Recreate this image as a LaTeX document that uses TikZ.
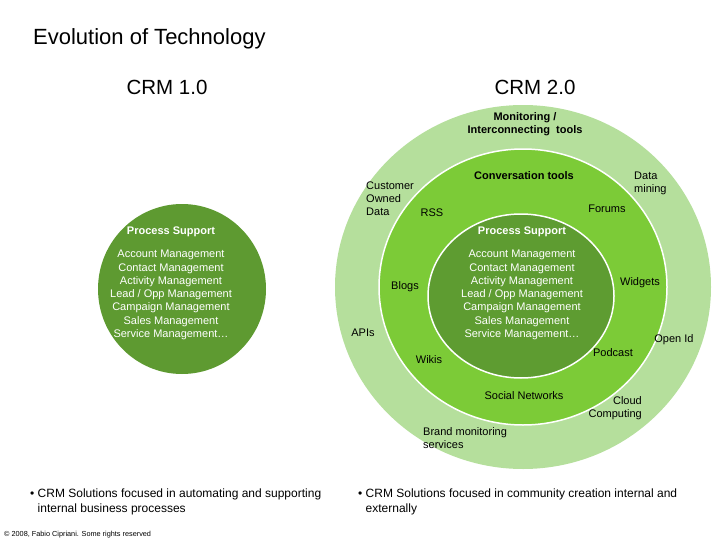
\documentclass[tikz,border=0pt]{standalone}
\usepackage{fontspec}
\setmainfont{Liberation Sans}
\definecolor{ringout}{HTML}{B5DF9C}
\definecolor{ringmid}{HTML}{7CCB37}
\definecolor{ringin}{HTML}{5E9C31}
\definecolor{crmone}{HTML}{5E9A31}
\tikzset{
  lbl/.style={font=\fontsize{11}{12.8}\selectfont, inner sep=0pt, align=center},
  hd/.style={lbl, font=\fontsize{11}{12.8}\selectfont\bfseries},
  proc/.style={font=\fontsize{11}{13.3}\selectfont, text=white, inner sep=0pt, align=center},
  bullet/.style={font=\fontsize{12}{15}\selectfont, inner sep=0pt, align=left, anchor=north west}
}
\begin{document}
\begin{tikzpicture}[x=1pt, y=-1pt]
\useasboundingbox (0,0) rectangle (728,546);
\coordinate (L) at (182,289);
\coordinate (R) at (523,287);
\coordinate (Ri) at (521,296);
\fill[crmone] (L) ellipse [x radius=84, y radius=85];
\fill[ringout] (R) ellipse [x radius=188, y radius=182];
\draw[white, line width=1.5, fill=ringmid] (R) ellipse [x radius=144, y radius=138];
\draw[white, line width=1.5, fill=ringin] (Ri) ellipse [x radius=93, y radius=82];
\node[anchor=west, inner sep=0pt, font=\fontsize{22}{25}\selectfont] (title) at (33,39) {Evolution of Technology};
\node[inner sep=0pt, font=\fontsize{20.5}{23}\selectfont] (crm1) at (167,87) {CRM 1.0};
\node[inner sep=0pt, font=\fontsize{20.5}{23}\selectfont] (crm2) at (535,87) {CRM 2.0};
\node[proc, font=\fontsize{11}{13.3}\selectfont\bfseries] (ps1) at (171,232) {Process Support};
\node[proc, anchor=north] (list1) at (171,250) {Account Management\\Contact Management\\Activity Management\\Lead / Opp Management\\Campaign Management\\Sales Management\\Service Management\dots};
\node[proc, font=\fontsize{11}{13.3}\selectfont\bfseries] (ps2) at (522,232) {Process Support};
\node[proc, anchor=north] (list2) at (522,250) {Account Management\\Contact Management\\Activity Management\\Lead / Opp Management\\Campaign Management\\Sales Management\\Service Management\dots};
\node[hd] (mon) at (525,124) {Monitoring /\\Interconnecting\ \ tools};
\node[hd] (conv) at (524,176) {Conversation tools};
\node[lbl, align=left, anchor=west] (cod) at (366,199) {Customer\\Owned\\Data};
\node[lbl] (rss) at (432,213) {RSS};
\node[lbl, align=left, anchor=west] (dm) at (634,183) {Data\\mining};
\node[lbl] (forums) at (607,209) {Forums};
\node[lbl] (blogs) at (405,287) {Blogs};
\node[lbl] (widgets) at (640,283) {Widgets};
\node[lbl] (apis) at (363,333) {APIs};
\node[lbl] (openid) at (674,340) {Open Id};
\node[lbl] (wikis) at (429,360) {Wikis};
\node[lbl] (podcast) at (613,353) {Podcast};
\node[lbl] (social) at (524,396) {Social Networks};
\node[lbl, align=right, anchor=east] (cloud) at (642,408) {Cloud\\Computing};
\node[lbl, align=left, anchor=west] (brand) at (423,438) {Brand monitoring\\services};
\node[bullet] (b1) at (30,489) {\textbullet\ CRM Solutions focused in automating and supporting\\\hspace*{7.5pt}internal business processes};
\node[bullet] (b2) at (358,489) {\textbullet\ CRM Solutions focused in community creation internal and\\\hspace*{7.5pt}externally};
\node[anchor=west, inner sep=0pt, font=\fontsize{7.3}{8}\selectfont] (copy) at (4,535) {\textcopyright\ 2008, Fabio Cipriani. Some rights reserved};
\end{tikzpicture}
\end{document}
